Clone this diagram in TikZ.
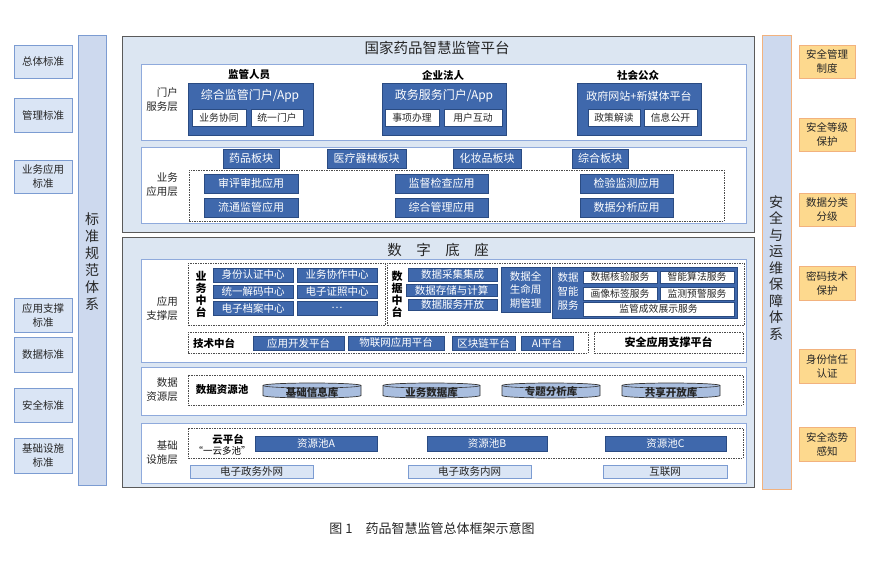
\documentclass[tikz,border=0pt]{standalone}
\usepackage{fontspec}
\setmainfont{Noto Sans CJK SC}
\definecolor{dkblue}{HTML}{3F68AC}
\definecolor{dkborder}{HTML}{2A4B82}
\definecolor{panelbg}{HTML}{DCE6F2}
\definecolor{panelborder}{HTML}{5A5A5A}
\definecolor{lyrborder}{HTML}{8FAADC}
\definecolor{lightbox}{HTML}{DAE5F5}
\definecolor{lbborder}{HTML}{7C9CD2}
\definecolor{barfill}{HTML}{CDD9EE}
\definecolor{orfill}{HTML}{FDD98E}
\definecolor{orborder}{HTML}{F2B27E}
\definecolor{txt}{HTML}{262626}
\definecolor{cylfill}{HTML}{A9BEDF}
\newcommand\fsz[2]{\fontsize{#1}{#2}\selectfont}
\newcommand\bx[7]{\node[#1,anchor=north west,inner sep=0pt,outer sep=0pt,
  minimum width={(#5-#3)*1pt},minimum height={(#6-#4)*1pt}] (#2) at (#3,#4) {#7};}
\newcommand\cyl[6]{%
  \pgfmathsetmacro\rx{(#4-#2)/2}%
  \draw[fill=cylfill,draw=black!80,line width=0.7pt] (#2,#3+2.5) -- (#2,#5-2.5)
     arc[start angle=180,end angle=360,x radius=\rx pt,y radius=2.5pt] -- (#4,#3+2.5)
     arc[start angle=0,end angle=180,x radius=\rx pt,y radius=2.5pt] -- cycle;
  \draw[draw=black!80,line width=0.6pt] (#2,#3+2.5)
     arc[start angle=180,end angle=360,x radius=\rx pt,y radius=2.5pt];
  \node[text=txt,font=\fsz{10.5}{12}\bfseries,inner sep=0pt] (#1) at ({(#2+#4)/2},{(#3+#5)/2+1.5}) {#6};}
\tikzset{
  panel/.style={fill=panelbg,draw=panelborder,line width=1pt},
  lyr/.style={fill=white,draw=lyrborder,line width=0.8pt},
  dk/.style={fill=dkblue,draw=dkborder,line width=0.6pt,text=white,font=\fsz{10.5}{12}},
  dkt/.style={fill=dkblue,draw=dkborder,line width=0.6pt},
  wb/.style={fill=white,draw=dkborder,line width=0.5pt,text=txt,font=\fsz{9.8}{11}},
  dsh/.style={draw=black!70,line width=0.6pt,dash pattern=on 1.5pt off 1pt},
  lb/.style={fill=lightbox,draw=lbborder,line width=0.8pt,text=txt,font=\fsz{10.5}{14},align=center},
  ob/.style={fill=orfill,draw=orborder,line width=0.8pt,text=txt,font=\fsz{10.5}{14},align=center},
  lbl/.style={text=txt,font=\fsz{10.5}{14},align=right,anchor=east,inner sep=0pt},
  hd/.style={text=black,font=\fsz{10.5}{12}\bfseries,inner sep=0pt},
  vt/.style={text=txt,align=center,inner sep=0pt},
}
\begin{document}
\begin{tikzpicture}[x=1pt,y=-1pt]
\useasboundingbox[fill=white] (0,0) rectangle (869,560);
% left column
\bx{lb}{l1}{14}{45}{72}{78}{总体标准}
\bx{lb}{l2}{14}{98}{72}{132}{管理标准}
\bx{lb}{l3}{14}{160}{72}{193}{业务应用\\标准}
\bx{lb}{l4}{14}{298}{72}{332}{应用支撑\\标准}
\bx{lb}{l5}{14}{337}{72}{372}{数据标准}
\bx{lb}{l6}{14}{388}{72}{422}{安全标准}
\bx{lb}{l7}{14}{438}{72}{473}{基础设施\\标准}
\bx{fill=barfill,draw=lbborder,line width=0.8pt}{lbar}{78}{35}{106}{485}{}
\node[vt,font=\fsz{14}{17}] (lbartext) at (92,262) {标\\准\\规\\范\\体\\系};
% right column
\bx{fill=barfill,draw=orborder,line width=0.8pt}{rbar}{762}{35}{791}{489}{}
\node[vt,font=\fsz{14}{16.5}] (rbartext) at (776,268) {安\\全\\与\\运\\维\\保\\障\\体\\系};
\bx{ob}{r1}{799}{45}{855}{78}{安全管理\\制度}
\bx{ob}{r2}{799}{118}{855}{151}{安全等级\\保护}
\bx{ob}{r3}{799}{193}{855}{226}{数据分类\\分级}
\bx{ob}{r4}{799}{266}{855}{300}{密码技术\\保护}
\bx{ob}{r5}{799}{349}{855}{383}{身份信任\\认证}
\bx{ob}{r6}{799}{427}{855}{461}{安全态势\\感知}
% top panel
\bx{panel}{top}{122}{36}{754}{232}{}
\node[text=txt,font=\fsz{14.5}{16},inner sep=0pt] (toptitle) at (437,48) {国家药品智慧监管平台};
\bx{lyr}{portal}{141}{64}{746}{140}{}
\node[lbl] (portallbl) at (178,100) {门户\\服务层};
\node[hd] (h1) at (249,75) {监管人员};
\node[hd] (h2) at (443,75) {企业法人};
\node[hd] (h3) at (638,75) {社会公众};
\bx{dkt}{p1}{188}{83}{313}{135}{}
\node[text=white,font=\fsz{12}{14},inner sep=0pt] (p1t) at (250,96) {综合监管门户/App};
\bx{wb}{p1a}{192}{109}{246}{126}{业务协同}
\bx{wb}{p1b}{251}{109}{303}{126}{统一门户}
\bx{dkt}{p2}{382}{83}{506}{135}{}
\node[text=white,font=\fsz{12}{14},inner sep=0pt] (p2t) at (444,96) {政务服务门户/App};
\bx{wb}{p2a}{385}{109}{439}{126}{事项办理}
\bx{wb}{p2b}{444}{109}{502}{126}{用户互动}
\bx{dkt}{p3}{577}{83}{701}{135}{}
\node[text=white,font=\fsz{11}{13},inner sep=0pt] (p3t) at (639,96) {政府网站+新媒体平台};
\bx{wb}{p3a}{588}{109}{640}{126}{政策解读}
\bx{wb}{p3b}{644}{109}{697}{126}{信息公开}
% business application layer
\bx{lyr}{bizapp}{141}{147}{746}{223}{}
\node[lbl] (bizapplbl) at (178,185) {业务\\应用层};
\bx{dk,font=\fsz{11}{12}}{m1}{223}{149}{279}{168}{药品板块}
\bx{dk,font=\fsz{11}{12}}{m2}{327}{149}{406}{168}{医疗器械板块}
\bx{dk,font=\fsz{11}{12}}{m3}{453}{149}{521}{168}{化妆品板块}
\bx{dk,font=\fsz{11}{12}}{m4}{572}{149}{628}{168}{综合板块}
\bx{dsh}{appdash}{189}{170}{724}{221}{}
\bx{dk,font=\fsz{11}{12}}{a1}{204}{174}{298}{193}{审评审批应用}
\bx{dk,font=\fsz{11}{12}}{a2}{204}{198}{298}{217}{流通监管应用}
\bx{dk,font=\fsz{11}{12}}{a3}{395}{174}{488}{193}{监督检查应用}
\bx{dk,font=\fsz{11}{12}}{a4}{395}{198}{488}{217}{综合管理应用}
\bx{dk,font=\fsz{11}{12}}{a5}{580}{174}{673}{193}{检验监测应用}
\bx{dk,font=\fsz{11}{12}}{a6}{580}{198}{673}{217}{数据分析应用}
% bottom panel
\bx{panel}{base}{122}{237}{754}{487}{}
\node[text=txt,font=\fsz{14.5}{16},inner sep=0pt] (basetitle) at (438,250) {数\quad 字\quad 底\quad 座};
% application support layer
\bx{lyr}{support}{141}{259}{746}{362}{}
\node[lbl] (supportlbl) at (178,309) {应用\\支撑层};
\bx{dsh}{bizmid}{188}{263}{385}{325}{}
\node[vt,font=\fsz{11}{12}\bfseries,text=black] (bizmidlbl) at (201,294) {业\\务\\中\\台};
\bx{dk}{b1}{213}{268}{293}{282}{身份认证中心}
\bx{dk}{b2}{297}{268}{377}{282}{业务协作中心}
\bx{dk}{b3}{213}{285}{293}{298}{统一解码中心}
\bx{dk}{b4}{297}{285}{377}{298}{电子证照中心}
\bx{dk}{b5}{213}{301}{293}{315}{电子档案中心}
\bx{dk}{b6}{297}{301}{377}{315}{…}
\bx{dsh}{datamid}{387}{263}{744}{325}{}
\node[vt,font=\fsz{11}{12}\bfseries,text=black] (datamidlbl) at (397,294) {数\\据\\中\\台};
\bx{dk}{d1}{408}{268}{497}{281}{数据采集集成}
\bx{dk}{d2}{406}{284}{497}{296}{数据存储与计算}
\bx{dk}{d3}{408}{299}{497}{310}{数据服务开放}
\bx{dk,align=center,font=\fsz{10.5}{13.5}}{d4}{501}{267}{550}{312}{数据全\\生命周\\期管理}
\bx{dkt}{d5}{552}{267}{737}{318}{}
\node[vt,text=white,font=\fsz{10.5}{14}] (d5lbl) at (568,292) {数据\\智能\\服务};
\bx{wb}{s1}{583}{271}{657}{283}{数据核验服务}
\bx{wb}{s2}{660}{271}{734}{283}{智能算法服务}
\bx{wb}{s3}{583}{287}{657}{300}{画像标签服务}
\bx{wb}{s4}{660}{287}{734}{300}{监测预警服务}
\bx{wb}{s5}{583}{302}{734}{316}{监管成效展示服务}
\bx{dsh}{techmid}{188}{332}{588}{353}{}
\node[hd] (techmidlbl) at (214,343) {技术中台};
\bx{dk}{t1}{253}{336}{344}{350}{应用开发平台}
\bx{dk}{t2}{348}{336}{444}{350}{物联网应用平台}
\bx{dk}{t3}{452}{336}{515}{350}{区块链平台}
\bx{dk}{t4}{521}{336}{573}{350}{AI平台}
\bx{dsh,font=\fsz{11}{12}\bfseries,text=black}{secplat}{594}{332}{743}{353}{安全应用支撑平台}
% data resource layer
\bx{lyr}{datares}{141}{367}{746}{415}{}
\node[lbl] (datareslbl) at (178,390) {数据\\资源层};
\bx{dsh}{pooldash}{188}{375}{743}{405}{}
\node[hd] (poollbl) at (222,390) {数据资源池};
\cyl{c1}{263}{383}{361}{398}{基础信息库}
\cyl{c2}{383}{383}{480}{398}{业务数据库}
\cyl{c3}{502}{383}{600}{398}{专题分析库}
\cyl{c4}{622}{383}{720}{398}{共享开放库}
% infrastructure layer
\bx{lyr}{infra}{141}{423}{746}{483}{}
\node[lbl] (infralbl) at (178,453) {基础\\设施层};
\bx{dsh}{clouddash}{188}{428}{743}{458}{}
\node[hd] (cloudlbl) at (228,439) {云平台};
\node[text=black,font=\fsz{9.5}{11},inner sep=0pt] (cloudsub) at (222,451) {“一云多池”};
\bx{dk}{rp1}{255}{436}{377}{451}{资源池A}
\bx{dk}{rp2}{427}{436}{547}{451}{资源池B}
\bx{dk}{rp3}{605}{436}{726}{451}{资源池C}
\bx{lb}{n1}{190}{465}{313}{478}{电子政务外网}
\bx{lb}{n2}{408}{465}{531}{478}{电子政务内网}
\bx{lb}{n3}{603}{465}{727}{478}{互联网}
% caption
\node[text=black!85,font=\fsz{13}{15},inner sep=0pt] (caption) at (432,528) {图 1\quad 药品智慧监管总体框架示意图};
\end{tikzpicture}
\end{document}
